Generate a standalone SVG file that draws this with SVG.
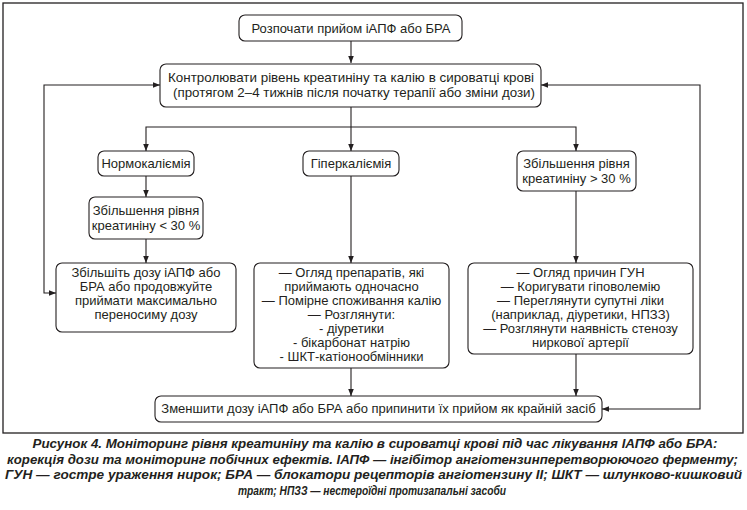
<svg xmlns="http://www.w3.org/2000/svg" width="747" height="510" viewBox="0 0 747 510">
<defs>
<marker id="ah" viewBox="0 0 8 8" refX="8" refY="4" markerWidth="7" markerHeight="7" markerUnits="userSpaceOnUse" orient="auto-start-reverse">
<path d="M0,0.8 L8,4 L0,7.2 Z" fill="#231f20"/>
</marker>
</defs>
<style>
.box{fill:#fff;stroke:#231f20;stroke-width:1.1}
.t{font-family:"Liberation Sans",Arial,sans-serif;font-size:13px;fill:#231f20;text-anchor:middle}
.ln{fill:none;stroke:#231f20;stroke-width:1.1}
.cap{font-family:"Liberation Sans",Arial,sans-serif;font-size:13px;font-weight:bold;font-style:italic;fill:#231f20;text-anchor:middle}
</style>
<rect x="0" y="0" width="747" height="510" fill="#fff"/>
<rect x="3" y="3" width="740" height="430" fill="none" stroke="#231f20" stroke-width="1.3"/>
<g id="connectors">
<path class="ln" d="M351,41 V63" marker-end="url(#ah)"/>
<path class="ln" d="M351,107 V127"/>
<path class="ln" d="M146,151 V127 H576 V151" marker-start="url(#ah)" marker-end="url(#ah)"/>
<path class="ln" d="M351,127 V151" marker-end="url(#ah)"/>
<path class="ln" d="M146,176 V197" marker-end="url(#ah)"/>
<path class="ln" d="M146,239 V263" marker-end="url(#ah)"/>
<path class="ln" d="M351,176 V263" marker-end="url(#ah)"/>
<path class="ln" d="M576,191 V263" marker-end="url(#ah)"/>
<path class="ln" d="M351,368 V396" marker-end="url(#ah)"/>
<path class="ln" d="M576,354 V396" marker-end="url(#ah)"/>
<path class="ln" d="M160,85 H44 V293 H56" marker-start="url(#ah)" marker-end="url(#ah)"/>
<path class="ln" d="M541,85 H700 V409 H602" marker-start="url(#ah)" marker-end="url(#ah)"/>
</g>
<g id="start">
<rect class="box" x="239" y="15" width="223" height="26" rx="6"/>
<text class="t" x="351" y="32.5">Розпочати прийом іАПФ або БРА</text>
</g>
<g id="control">
<rect class="box" x="160" y="64" width="381" height="43" rx="6"/>
<text class="t" x="351" y="81.5" textLength="366" lengthAdjust="spacingAndGlyphs">Контролювати рівень креатиніну та калію в сироватці крові</text>
<text class="t" x="354" y="96.5" textLength="362" lengthAdjust="spacingAndGlyphs">(протягом 2–4 тижнів після початку терапії або зміни дози)</text>
</g>
<g id="normo">
<rect class="box" x="98" y="151" width="96" height="25" rx="6"/>
<text class="t" x="146" y="168">Нормокаліємія</text>
</g>
<g id="hyper">
<rect class="box" x="303" y="151" width="96" height="25" rx="6"/>
<text class="t" x="351" y="168">Гіперкаліємія</text>
</g>
<g id="creat-high">
<rect class="box" x="517" y="151" width="119" height="40" rx="6"/>
<text class="t" x="576.5" y="168">Збільшення рівня</text>
<text class="t" x="576.5" y="183">креатиніну &gt; 30 %</text>
</g>
<g id="creat-low">
<rect class="box" x="89" y="197" width="114" height="42" rx="6"/>
<text class="t" x="146" y="215">Збільшення рівня</text>
<text class="t" x="146" y="230">креатиніну &lt; 30 %</text>
</g>
<g id="increase">
<rect class="box" x="56" y="263" width="180" height="69" rx="6"/>
<text class="t" x="146" y="277">Збільшіть дозу іАПФ або</text>
<text class="t" x="146" y="291">БРА або продовжуйте</text>
<text class="t" x="146" y="305">приймати максимально</text>
<text class="t" x="146" y="319">переносиму дозу</text>
</g>
<g id="hyper-actions">
<rect class="box" x="254" y="263" width="195" height="105" rx="6"/>
<text class="t" x="351.5" y="277">— Огляд препаратів, які</text>
<text class="t" x="351.5" y="291">приймають одночасно</text>
<text class="t" x="351.5" y="305">— Помірне споживання калію</text>
<text class="t" x="351.5" y="319">— Розглянути:</text>
<text class="t" x="351.5" y="333">- діуретики</text>
<text class="t" x="351.5" y="347">- бікарбонат натрію</text>
<text class="t" x="351.5" y="361">- ШКТ-катіонообмінники</text>
</g>
<g id="aki-actions">
<rect class="box" x="468" y="263" width="225" height="91" rx="6"/>
<text class="t" x="580.5" y="277">— Огляд причин ГУН</text>
<text class="t" x="580.5" y="291">— Коригувати гіповолемію</text>
<text class="t" x="580.5" y="305">— Переглянути супутні ліки</text>
<text class="t" x="580.5" y="319">(наприклад, діуретики, НПЗЗ)</text>
<text class="t" x="580.5" y="333">— Розглянути наявність стенозу</text>
<text class="t" x="580.5" y="347">ниркової артерії</text>
</g>
<g id="reduce">
<rect class="box" x="155" y="396" width="447" height="26" rx="6"/>
<text class="t" x="378.5" y="413">Зменшити дозу іАПФ або БРА або припинити їх прийом як крайній засіб</text>
</g>
<g id="caption">
<text class="cap" x="375" y="448" textLength="685" lengthAdjust="spacingAndGlyphs">Рисунок 4. Моніторинг рівня креатиніну та калію в сироватці крові під час лікування ІАПФ або БРА:</text>
<text class="cap" x="372.5" y="463.5" textLength="731" lengthAdjust="spacingAndGlyphs">корекція дози та моніторинг побічних ефектів. ІАПФ — інгібітор ангіотензинперетворюючого ферменту;</text>
<text class="cap" x="373.5" y="479" textLength="737" lengthAdjust="spacingAndGlyphs">ГУН — гостре ураження нирок; БРА — блокатори рецепторів ангіотензину II; ШКТ — шлунково-кишковий</text>
<text class="cap" x="372" y="494.5" textLength="268" lengthAdjust="spacingAndGlyphs">тракт; НПЗЗ — нестероїдні протизапальні засоби</text>
</g>
</svg>
